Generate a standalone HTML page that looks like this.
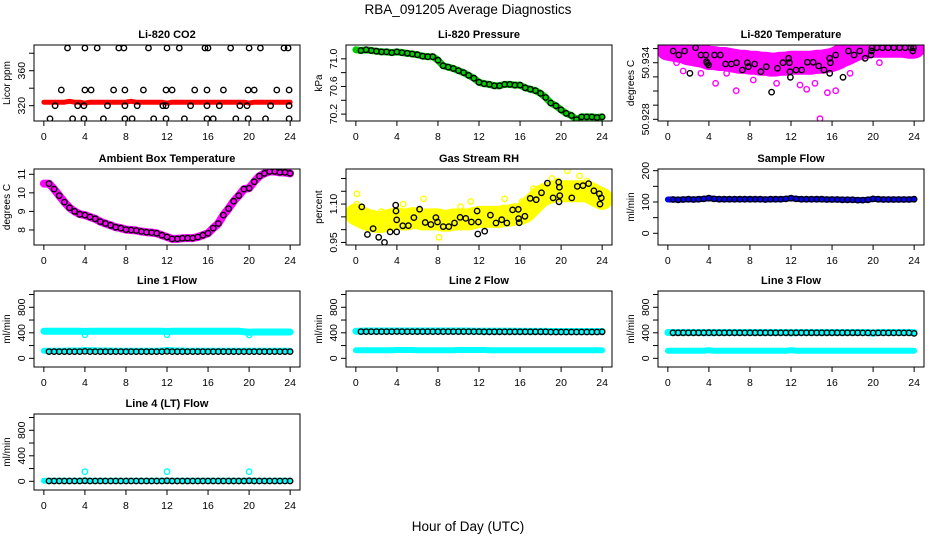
<!DOCTYPE html>
<html><head><meta charset="utf-8"><style>
html,body{margin:0;padding:0;background:#fff}
svg text{font-family:"Liberation Sans",sans-serif}
</style></head><body>
<svg id="chart" width="936" height="540" viewBox="0 0 936 540" xmlns="http://www.w3.org/2000/svg">
<rect width="936" height="540" fill="#fff"/>
<text x="468" y="14" font-size="13.5" text-anchor="middle">RBA_091205  Average Diagnostics</text>
<text x="468" y="531" font-size="13.5" text-anchor="middle">Hour of Day (UTC)</text>
<g id="panels"></g>
</svg>
<script>
const hours = [0,0.5,1,1.5,2,2.5,3,3.5,4,4.5,5,5.5,6,6.5,7,7.5,8,8.5,9,9.5,10,10.5,11,11.5,12,12.5,13,13.5,14,14.5,15,15.5,16,16.5,17,17.5,18,18.5,19,19.5,20,20.5,21,21.5,22,22.5,23,23.5,24];
const xTicks = [0,4,8,12,16,20,24];

// CO2
const co2Band = [324,324,324,324,324,325,324,324,323,324,324,324,324,324,324,324,324,325,324,324,324,324,324,324,323,324,324,324,324,324,324,324,324,324,324,324,324,324,324,324,323,324,324,324,324,324,324,324,324];
const co2Hours = [2.3,4,5.2,7.3,7.8,10.2,12,13.2,15.7,16,18.2,20,21.1,23.4,23.8, 1.7,4,4.6,6.8,7.9,9.7,11.9,12.5,14.7,15.9,17.5,19.9,20.5,22.7,23.9, 1.1,3.3,3.9,6.2,7.9,9.1,11.6,11.9,14.3,15.9,17.1,19.1,19.8,22.1,23.9, 0.6,2.8,3.9,5.8,7.9,8.6,10.7,11.9,13.7,15.9,16.5,18.7,19.9,21.6,23.9];
const co2Values = [386,386,386,386,386,386,386,386,386,386,386,386,386,386,386, 338,338,338,338,338,338,338,338,338,338,338,338,338,338,338, 320,320,320,320,320,320,320,320,320,320,320,320,320,320,320, 305,305,305,305,305,305,305,305,305,305,305,305,305,305,305];

// Pressure
const pressure = [71.13,71.12,71.13,71.12,71.11,71.10,71.10,71.09,71.10,71.09,71.08,71.07,71.06,71.04,71.03,71.03,70.98,70.90,70.88,70.86,70.83,70.80,70.76,70.72,70.66,70.64,70.63,70.61,70.61,70.63,70.63,70.62,70.62,70.58,70.56,70.54,70.50,70.44,70.36,70.32,70.26,70.21,70.18,70.12,70.16,70.16,70.16,70.15,70.16];

// Li-820 temperature
const tempBand = [50.9355,50.9354,50.9353,50.9352,50.9350,50.9349,50.9348,50.9347,50.9345,50.9345,50.9344,50.9344,50.9343,50.9342,50.9341,50.9341,50.9340,50.9340,50.9339,50.9339,50.9338,50.9338,50.9339,50.9339,50.9340,50.9340,50.9340,50.9340,50.9340,50.9341,50.9341,50.9342,50.9343,50.9345,50.9348,50.9350,50.9353,50.9355,50.9356,50.9357,50.9358,50.9358,50.9358,50.9358,50.9358,50.9358,50.9358,50.9357,50.9357];
const tempOutHours = [4.65,6.66,14.83,15.55,16.36,8.33,13.53,0.85,1.5,3.22,5.72,12.88,17.76,20.61,10.6,14.34];
const tempOutValues = [50.93182,50.93103,50.92806,50.93082,50.93103,50.93217,50.93118,50.93400,50.93312,50.93288,50.93288,50.93164,50.93288,50.93400,50.93182,50.93182];
const tempHours = [0.52,1.07,1.63,2.15,2.70,3.22,3.71,3.77,3.84,3.97,4.55,5.11,5.63,6.18,6.70,7.25,7.74,7.84,8.46,9.07,9.59,10.11,10.67,11.22,11.77,11.84,11.90,11.94,12.49,13.04,13.59,14.15,14.70,15.22,15.77,15.84,15.77,16.36,17.07,17.59,18.15,18.70,19.22,19.80,19.84,19.90,20.36,20.91,21.46,22.02,22.57,23.12,23.67,23.87,23.94];
const tempValues = [50.93524,50.93482,50.93524,50.93288,50.93559,50.93482,50.93482,50.93411,50.93394,50.93376,50.93482,50.93482,50.93386,50.93386,50.93400,50.93323,50.93400,50.93358,50.93386,50.93305,50.93358,50.93089,50.93341,50.93400,50.93447,50.93400,50.93305,50.93245,50.93323,50.93323,50.93404,50.93404,50.93365,50.93323,50.93447,50.93400,50.93288,50.93482,50.93245,50.93524,50.93482,50.93524,50.93447,50.93482,50.93524,50.93559,50.93559,50.93559,50.93559,50.93559,50.93559,50.93559,50.93559,50.93524,50.93559];

// Ambient box temperature
const ambient = [10.5,10.5,10.2,9.85,9.5,9.2,9.0,8.85,8.8,8.7,8.6,8.45,8.35,8.25,8.15,8.1,8.02,8.0,7.97,7.92,7.88,7.86,7.82,7.72,7.62,7.52,7.52,7.55,7.56,7.56,7.62,7.72,7.82,8.1,8.35,8.8,9.15,9.55,9.85,10.2,10.25,10.6,10.9,11.05,11.15,11.15,11.1,11.1,11.05];

// Gas stream RH
const rhBand = [1.06,1.05,1.04,1.035,1.03,1.03,1.035,1.04,1.045,1.04,1.04,1.045,1.045,1.04,1.04,1.04,1.04,1.035,1.035,1.04,1.04,1.04,1.04,1.045,1.05,1.05,1.05,1.05,1.05,1.055,1.055,1.06,1.06,1.07,1.09,1.11,1.13,1.14,1.145,1.15,1.15,1.15,1.15,1.15,1.15,1.15,1.14,1.13,1.12];
const rhOutHours = [0.1,0.1,6.6,10.2,11.2,14.5,16.2,17.3,19.1,19.7,20.6,21.8,22.5,2.5,4.6,8.1];
const rhOutValues = [1.14,1.10,1.12,1.09,1.11,1.12,1.11,1.16,1.20,1.19,1.23,1.21,1.19,1.07,1.10,0.97];
const rhHours = [0.58,1.13,1.68,2.23,2.79,3.34,3.88,3.91,3.98,3.98,4.57,5.12,5.66,6.21,6.76,7.31,7.80,7.96,8.51,9.06,9.61,10.16,10.71,11.26,11.81,11.88,11.94,12.56,13.11,13.66,14.21,14.72,15.27,15.83,15.86,15.92,16.47,16.99,17.57,18.09,18.67,19.22,19.77,19.80,19.83,19.87,21.04,21.58,22.13,22.68,23.20,23.72,23.79,23.92];
const rhValues = [1.089,0.981,1.004,0.970,0.950,0.991,1.096,1.073,1.038,0.991,1.015,1.016,1.047,1.080,1.028,1.020,1.047,1.030,1.012,1.012,1.026,1.048,1.044,1.030,1.073,0.983,1.030,0.994,1.057,1.026,1.039,1.026,1.077,1.079,1.043,1.027,1.052,1.122,1.117,1.144,1.182,1.124,1.186,1.109,1.166,1.133,1.124,1.169,1.172,1.180,1.152,1.140,1.100,1.124];

// Sample flow
const sampleFlow = [108,108,107,108,109,108,109,110,112,110,109,109,109,109,109,109,109,109,109,108,109,109,109,110,112,110,109,109,109,109,109,108,108,108,107,107,107,106,106,107,110,109,108,108,108,108,108,108,109];

// Line flows
const line1Top = [425,425,425,425,425,425,425,425,420,425,425,425,425,425,425,425,425,425,425,425,425,425,425,425,420,425,425,425,425,425,425,425,425,425,425,425,425,425,425,415,410,412,412,412,412,412,412,412,412];
const line1Low = [120,120,120,120,120,122,122,122,130,128,125,122,122,122,120,120,120,120,120,120,120,120,120,122,130,125,122,122,120,120,120,120,120,120,120,120,120,120,120,120,120,120,120,120,120,120,120,120,120];
const line1Black = [105,105,105,105,105,105,105,105,108,105,105,105,105,105,105,105,105,105,105,105,105,105,105,105,108,105,105,105,105,105,105,105,105,105,105,105,105,105,105,105,105,105,105,105,105,105,105,105,105];
const line1OutHours = [4,12,20];
const line1OutValues = [370,370,365];

const line2Top = [425,425,428,428,428,428,428,428,428,428,428,428,428,428,428,428,428,428,428,428,428,428,428,425,425,425,425,425,425,425,425,425,422,422,422,422,422,422,420,420,420,420,420,420,420,420,420,420,420];
const line2Low = [125,125,125,125,128,128,128,128,130,130,130,130,128,128,128,128,128,128,128,128,130,130,130,130,130,130,128,128,125,125,125,125,125,125,125,125,125,125,125,125,128,125,125,125,125,125,125,125,125];
const line2Black = [418,418,418,418,418,418,418,418,420,418,418,418,418,418,418,418,418,418,418,418,418,418,418,418,418,415,415,415,415,415,415,415,415,415,415,415,415,415,412,412,412,412,412,412,412,412,412,412,415];

const line3Top = [405,405,405,405,405,405,405,405,400,405,405,405,405,405,405,405,405,405,405,405,405,405,405,405,400,405,405,405,405,405,405,405,405,405,405,405,405,405,405,405,395,405,405,405,405,405,405,405,405];
const line3Low = [120,120,120,120,120,120,120,120,125,120,120,120,120,120,120,120,120,120,120,120,120,120,120,120,125,120,120,120,120,120,120,120,120,120,120,120,120,120,120,120,120,120,120,120,120,120,120,120,120];
const line3Black = [400,400,400,400,400,400,400,400,402,400,400,400,400,400,400,400,400,400,400,400,400,400,400,400,400,400,400,400,400,400,400,400,400,400,400,400,400,400,398,398,398,398,398,398,398,398,398,398,390];

const line4Cyan = [10,10,10,10,10,10,10,10,12,10,10,10,10,10,10,10,10,10,10,10,10,10,10,10,12,10,10,10,10,10,10,10,10,10,10,10,10,10,10,10,12,10,10,10,10,10,10,10,10];
const line4Black = [5,5,5,5,5,5,5,5,8,5,5,5,5,5,5,5,5,5,5,5,5,5,5,5,8,5,5,5,5,5,5,5,5,5,5,5,5,5,5,5,8,5,5,5,5,5,5,5,5];
const line4OutHours = [4,12,20];
const line4OutValues = [150,150,150];

const flowTicks = [0,200,400,600,800,1000];
const flowLabels = ['0','','400','','800',''];

const NS = 'http://www.w3.org/2000/svg';
const root = document.getElementById('panels');
const COLS = [34,346,658], ROWS = [45,169,291,414], PW = 266, PH = 76;

function mk(tag, attrs, parent) {
  const e = document.createElementNS(NS, tag);
  for (const k in attrs) e.setAttribute(k, attrs[k]);
  parent.appendChild(e);
  return e;
}

function panel(cfg) {
  const L = COLS[cfg.col], T = ROWS[cfg.row];
  const g = mk('g', {}, root);
  
  
  const sx = v => L + (v + 0.96) / 25.92 * PW;
  const sy = v => T + PH - (v - cfg.ymin) / (cfg.ymax - cfg.ymin) * PH;
  const clipId = 'clip-' + cfg.name;
  const cp = mk('clipPath', {id: clipId}, g);
  mk('rect', {x: L, y: T, width: PW, height: PH}, cp);
  const plot = mk('g', {'clip-path': 'url(#' + clipId + ')'}, g);
  
  

  cfg.layers.forEach(ly => {
    if (ly.type === 'band') {
      const pts = ly.xs.map((x, i) => sx(x).toFixed(1) + ',' + sy(ly.ys[i]).toFixed(1)).join(' ');
      const pl = mk('polyline', {points: pts, fill: 'none', stroke: ly.color, 'stroke-width': ly.w, 'stroke-linejoin': 'round', 'stroke-linecap': 'round'}, plot);
      
      
    } else {
      const pg = mk('g', {}, plot);
      
      
      ly.xs.forEach((x, i) => {
        const c = mk('circle', {cx: sx(x).toFixed(1), cy: sy(ly.ys[i]).toFixed(1), r: 2.7, fill: 'none', stroke: ly.color, 'stroke-width': 1.4}, pg);
        
        
      });
    }
  });

  const frame = mk('rect', {x: L, y: T, width: PW, height: PH, fill: 'none', stroke: '#000', 'stroke-width': 1}, g);
  
  

  const xa = mk('g', {}, g);
  
  
  mk('line', {x1: sx(0), x2: sx(24), y1: T + PH, y2: T + PH, stroke: '#000'}, xa);
  xTicks.forEach(t => {
    mk('line', {x1: sx(t), x2: sx(t), y1: T + PH, y2: T + PH + 5, stroke: '#000'}, xa);
    const tx = mk('text', {x: sx(t), y: T + PH + 19, 'font-size': 10.5, 'text-anchor': 'middle'}, xa);
    
    
    tx.textContent = t;
  });

  const ya = mk('g', {}, g);
  
  
  mk('line', {x1: L, x2: L, y1: sy(cfg.yticks[0]), y2: sy(cfg.yticks[cfg.yticks.length - 1]), stroke: '#000'}, ya);
  cfg.yticks.forEach((t, i) => {
    const y = sy(t);
    mk('line', {x1: L - 5, x2: L, y1: y, y2: y, stroke: '#000'}, ya);
    if (cfg.ylabels[i]) {
      const tx = mk('text', {x: L - 9, y: y, 'font-size': 10.5, 'text-anchor': 'middle', transform: 'rotate(-90 ' + (L - 9) + ' ' + y + ')'}, ya);
      
      
      tx.textContent = cfg.ylabels[i];
    }
  });
  const yl = mk('text', {x: L - 24, y: T + PH / 2, 'font-size': 10, 'text-anchor': 'middle', transform: 'rotate(-90 ' + (L - 24) + ' ' + (T + PH / 2) + ')'}, g);
  
  
  yl.textContent = cfg.ylab;

  const tt = mk('text', {x: L + PW / 2, y: T - 7, 'font-size': 11, 'font-weight': 'bold', 'text-anchor': 'middle'}, g);
  
  
  tt.textContent = cfg.title;
}

panel({name: 'co2-panel', col: 0, row: 0, title: 'Li-820 CO2', ylab: 'Licor ppm', ymin: 302.5, ymax: 389.4,
  yticks: [320,340,360,380], ylabels: ['320','','360',''],
  layers: [{type: 'band', name: 'co2-red-series', xs: hours, ys: co2Band, color: '#ff0000', w: 5},
           {type: 'pts', name: 'co2-average-series', xs: co2Hours, ys: co2Values, color: '#000'}]});

panel({name: 'pressure-panel', col: 1, row: 0, title: 'Li-820 Pressure', ylab: 'kPa', ymin: 70.10, ymax: 71.20,
  yticks: [70.2,70.4,70.6,70.8,71.0], ylabels: ['70.2','','70.6','','71.0'],
  layers: [{type: 'band', name: 'pressure-green-series', xs: hours, ys: pressure, color: '#00cc00', w: 7},
           {type: 'pts', name: 'pressure-average-series', xs: hours.slice(1), ys: pressure.slice(1), color: '#000'}]});

panel({name: 'temperature-panel', col: 2, row: 0, title: 'Li-820 Temperature', ylab: 'degrees C', ymin: 50.92782, ymax: 50.93588,
  yticks: [50.928,50.9295,50.931,50.9325,50.934,50.9355], ylabels: ['50.928','','','','50.934',''],
  layers: [{type: 'band', name: 'temperature-magenta-series', xs: hours, ys: tempBand, color: '#ff00ff', w: 24},
           {type: 'pts', name: 'temperature-magenta-outliers', xs: tempOutHours, ys: tempOutValues, color: '#ff00ff'},
           {type: 'pts', name: 'temperature-average-series', xs: tempHours, ys: tempValues, color: '#000'}]});

panel({name: 'ambient-panel', col: 0, row: 1, title: 'Ambient Box Temperature', ylab: 'degrees C', ymin: 7.19, ymax: 11.285,
  yticks: [8,9,10,11], ylabels: ['8','9','10','11'],
  layers: [{type: 'band', name: 'ambient-magenta-series', xs: hours, ys: ambient, color: '#ff00ff', w: 8},
           {type: 'pts', name: 'ambient-average-series', xs: hours.slice(1), ys: ambient.slice(1), color: '#000'}]});

panel({name: 'rh-panel', col: 1, row: 1, title: 'Gas Stream RH', ylab: 'percent', ymin: 0.94, ymax: 1.237,
  yticks: [0.95,1.0,1.05,1.1,1.15,1.2], ylabels: ['0.95','','','1.10','',''],
  layers: [{type: 'band', name: 'rh-yellow-series', xs: hours, ys: rhBand, color: '#ffff00', w: 22},
           {type: 'pts', name: 'rh-yellow-outliers', xs: rhOutHours, ys: rhOutValues, color: '#ffff00'},
           {type: 'pts', name: 'rh-average-series', xs: rhHours, ys: rhValues, color: '#000'}]});

panel({name: 'sample-flow-panel', col: 2, row: 1, title: 'Sample Flow', ylab: 'ml/min', ymin: -37.4, ymax: 205.4,
  yticks: [0,50,100,150,200], ylabels: ['0','','100','','200'],
  layers: [{type: 'band', name: 'sample-flow-blue-series', xs: hours, ys: sampleFlow, color: '#0000ff', w: 6},
           {type: 'pts', name: 'sample-flow-average-series', xs: hours.slice(1), ys: sampleFlow.slice(1), color: '#000'}]});

panel({name: 'line1-flow-panel', col: 0, row: 2, title: 'Line 1 Flow', ylab: 'ml/min', ymin: -136, ymax: 1055,
  yticks: flowTicks, ylabels: flowLabels,
  layers: [{type: 'band', name: 'line1-cyan-upper-series', xs: hours, ys: line1Top, color: '#00ffff', w: 7},
           {type: 'band', name: 'line1-cyan-lower-series', xs: hours, ys: line1Low, color: '#00ffff', w: 6},
           {type: 'pts', name: 'line1-cyan-outliers', xs: line1OutHours, ys: line1OutValues, color: '#00ffff'},
           {type: 'pts', name: 'line1-average-series', xs: hours.slice(1), ys: line1Black.slice(1), color: '#000'}]});

panel({name: 'line2-flow-panel', col: 1, row: 2, title: 'Line 2 Flow', ylab: 'ml/min', ymin: -136, ymax: 1055,
  yticks: flowTicks, ylabels: flowLabels,
  layers: [{type: 'band', name: 'line2-cyan-upper-series', xs: hours, ys: line2Top, color: '#00ffff', w: 7},
           {type: 'band', name: 'line2-cyan-lower-series', xs: hours, ys: line2Low, color: '#00ffff', w: 6},
           {type: 'pts', name: 'line2-average-series', xs: hours.slice(1), ys: line2Black.slice(1), color: '#000'}]});

panel({name: 'line3-flow-panel', col: 2, row: 2, title: 'Line 3 Flow', ylab: 'ml/min', ymin: -136, ymax: 1055,
  yticks: flowTicks, ylabels: flowLabels,
  layers: [{type: 'band', name: 'line3-cyan-upper-series', xs: hours, ys: line3Top, color: '#00ffff', w: 7},
           {type: 'band', name: 'line3-cyan-lower-series', xs: hours, ys: line3Low, color: '#00ffff', w: 6},
           {type: 'pts', name: 'line3-average-series', xs: hours.slice(1), ys: line3Black.slice(1), color: '#000'}]});

panel({name: 'line4-flow-panel', col: 0, row: 3, title: 'Line 4 (LT) Flow', ylab: 'ml/min', ymin: -136, ymax: 1055,
  yticks: flowTicks, ylabels: flowLabels,
  layers: [{type: 'band', name: 'line4-cyan-series', xs: hours, ys: line4Cyan, color: '#00ffff', w: 6},
           {type: 'pts', name: 'line4-cyan-outliers', xs: line4OutHours, ys: line4OutValues, color: '#00ffff'},
           {type: 'pts', name: 'line4-average-series', xs: hours.slice(1), ys: line4Black.slice(1), color: '#000'}]});
</script>
</body></html>
